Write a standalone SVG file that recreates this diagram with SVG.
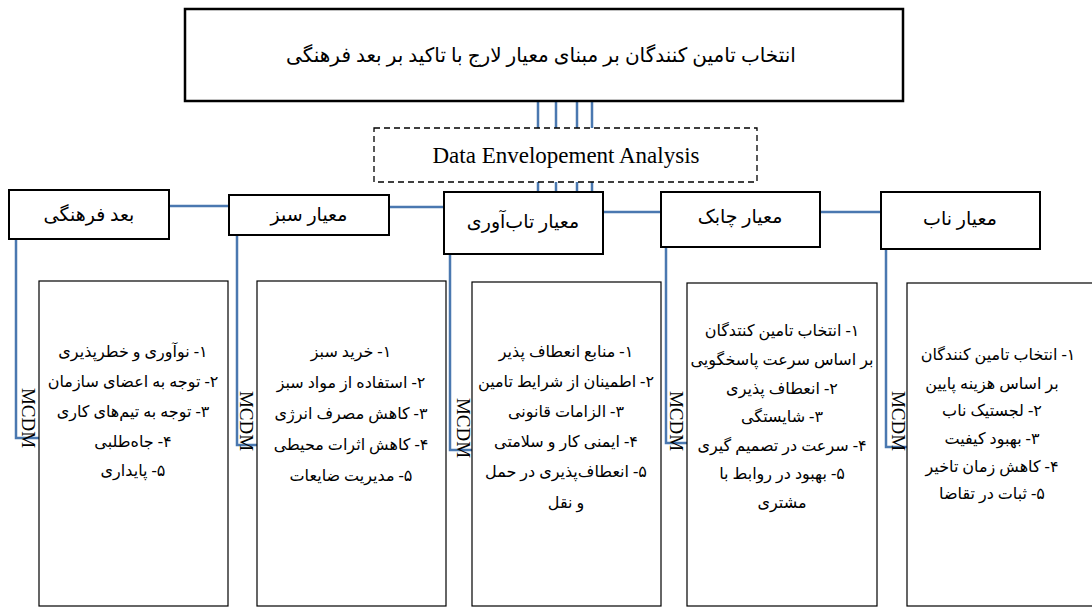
<svg xmlns="http://www.w3.org/2000/svg" width="1092" height="608" viewBox="0 0 1092 608">
<style>
.fa{font-family:"Liberation Serif","DejaVu Sans",serif;font-size:16px;fill:#000;text-anchor:middle;direction:rtl}
.hd{font-family:"Liberation Serif","DejaVu Sans",serif;font-size:19px;fill:#000;text-anchor:middle;direction:rtl}
.en{font-family:"Liberation Serif",serif;fill:#000}
.hbox{fill:#fff;stroke:#000;stroke-width:2}
.cbox{fill:#fff;stroke:#000;stroke-width:1.2}
.ln{fill:none;stroke:#4A78B0;stroke-width:2.5}
</style>
<rect width="1092" height="608" fill="#fff"/>
<g id="connectors">
<path class="ln" d="M538 101V192M556 101V192M577 101V192M592 101V192"/>
<path class="ln" d="M169 206H229M389 207H444M603 212H661M820 212H881"/>
<path class="ln" d="M16 239V438H39M237 235V445H257M450 254V450H472M666 247V443H687M886 249V447H907"/>
</g>
<g id="title">
<rect x="185" y="9" width="718" height="92" fill="#fff" stroke="#000" stroke-width="2.5"/>
<text class="fa" x="541" y="62" style="font-size:20px">انتخاب تامین کنندگان بر مبنای معیار لارج با تاکید بر بعد فرهنگی</text>
</g>
<g id="dea">
<rect x="374" y="128" width="383" height="54" fill="#fff" stroke="#000" stroke-width="1.3" stroke-dasharray="6 4"/>
<text class="en" x="566" y="163" text-anchor="middle" font-size="23">Data Envelopement Analysis</text>
</g>
<g id="h1"><rect class="hbox" x="9" y="190" width="160" height="49"/><text class="hd" x="89" y="221">بعد فرهنگی</text></g>
<g id="h2"><rect class="hbox" x="229" y="195" width="160" height="40"/><text class="hd" x="309" y="221">معیار سبز</text></g>
<g id="h3"><rect class="hbox" x="444" y="192" width="159" height="62"/><text class="hd" x="523" y="228">معیار تاب‌آوری</text></g>
<g id="h4"><rect class="hbox" x="661" y="192" width="159" height="55"/><text class="hd" x="740" y="223">معیار چابک</text></g>
<g id="h5"><rect class="hbox" x="881" y="192" width="159" height="57"/><text class="hd" x="960" y="225">معیار ناب</text></g>
<g id="c1">
<rect class="cbox" x="39" y="281" width="189" height="325"/>
<text class="en" font-size="19" transform="translate(22,418) rotate(90)" text-anchor="middle">MCDM</text>
<text class="fa" x="133" y="357">۱-  نوآوری و خطرپذیری</text>
<text class="fa" x="133" y="387">۲- توجه به اعضای سازمان</text>
<text class="fa" x="133" y="417">۳- توجه به تیم‌های کاری</text>
<text class="fa" x="133" y="447">۴- جاه‌طلبی</text>
<text class="fa" x="133" y="476">۵- پایداری</text>
</g>
<g id="c2">
<rect class="cbox" x="257" y="281" width="189" height="325"/>
<text class="en" font-size="19" transform="translate(240,421) rotate(90)" text-anchor="middle">MCDM</text>
<text class="fa" x="351" y="357">۱-  خرید سبز</text>
<text class="fa" x="351" y="388">۲- استفاده از مواد سبز</text>
<text class="fa" x="351" y="419">۳- کاهش مصرف انرژی</text>
<text class="fa" x="351" y="450">۴- کاهش اثرات محیطی</text>
<text class="fa" x="351" y="481">۵- مدیریت ضایعات</text>
</g>
<g id="c3">
<rect class="cbox" x="472" y="282" width="189" height="324"/>
<text class="en" font-size="19" transform="translate(457,428) rotate(90)" text-anchor="middle">MCDM</text>
<text class="fa" x="566" y="357">۱-  منابع انعطاف پذیر</text>
<text class="fa" x="566" y="387">۲- اطمینان از شرایط تامین</text>
<text class="fa" x="566" y="417">۳- الزامات قانونی</text>
<text class="fa" x="566" y="447">۴- ایمنی کار و سلامتی</text>
<text class="fa" x="566" y="477">۵- انعطاف‌پذیری در حمل</text>
<text class="fa" x="566" y="508">و نقل</text>
</g>
<g id="c4">
<rect class="cbox" x="687" y="283" width="190" height="323"/>
<text class="en" font-size="19" transform="translate(670,421) rotate(90)" text-anchor="middle">MCDM</text>
<text class="fa" x="782" y="336">۱-  انتخاب تامین کنتدگان</text>
<text class="fa" x="782" y="365">بر اساس سرعت پاسخگویی</text>
<text class="fa" x="782" y="394">۲- انعطاف پذیری</text>
<text class="fa" x="782" y="422">۳- شایستگی</text>
<text class="fa" x="782" y="451">۴- سرعت در تصمیم گیری</text>
<text class="fa" x="782" y="479">۵- بهبود در روابط با</text>
<text class="fa" x="782" y="508">مشتری</text>
</g>
<g id="c5">
<rect class="cbox" x="907" y="283" width="190" height="323"/>
<text class="en" font-size="19" transform="translate(892,421) rotate(90)" text-anchor="middle">MCDM</text>
<text class="fa" x="998" y="360">۱-  انتخاب تامین کنندگان</text>
<text class="fa" x="992" y="389">بر اساس هزینه پایین</text>
<text class="fa" x="992" y="416">۲- لجستیک ناب</text>
<text class="fa" x="992" y="444">۳- بهبود کیفیت</text>
<text class="fa" x="992" y="472">۴- کاهش زمان تاخیر</text>
<text class="fa" x="992" y="499">۵- ثبات در تقاضا</text>
</g>
</svg>
